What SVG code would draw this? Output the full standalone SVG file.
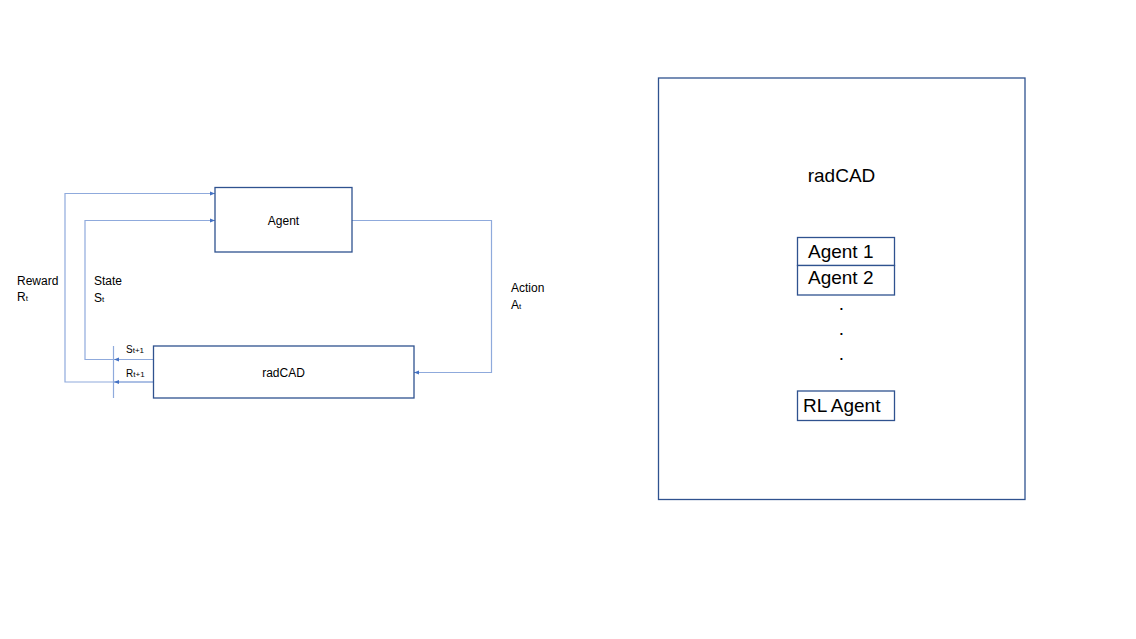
<svg xmlns="http://www.w3.org/2000/svg" width="1136" height="639" viewBox="0 0 1136 639">
<style>
.box{fill:#fff;stroke:#2F528F;stroke-width:1.3}
.ln{fill:none;stroke:#8FAADC;stroke-width:1.2}
.t{font-family:"Liberation Sans",Arial,sans-serif;fill:#000}
.s{font-size:12px}
.sub{font-size:8px}
.big{font-size:19px}
</style>
<defs>
<marker id="ah" viewBox="0 0 10 10" refX="10" refY="5" markerWidth="5" markerHeight="5" orient="auto" markerUnits="userSpaceOnUse">
<path d="M0,1 L10,5 L0,9 Z" fill="#4472C4"/>
</marker>
</defs>
<rect width="1136" height="639" fill="#fff"/>
<g id="connectors">
<polyline class="ln" points="153,382 65,382 65,193.5 215,193.5" marker-end="url(#ah)"/>
<polyline class="ln" points="153,359.5 85,359.5 85,220.5 215,220.5" marker-end="url(#ah)"/>
<polyline class="ln" points="352,220.5 491.5,220.5 491.5,372.5 414,372.5" marker-end="url(#ah)"/>
<path class="ln" d="M153,359.5 L114,359.5" marker-end="url(#ah)"/>
<path class="ln" d="M153,382 L114,382" marker-end="url(#ah)"/>
<line class="ln" x1="113.5" y1="346" x2="113.5" y2="398"/>
</g>
<g id="agent">
<rect class="box" x="215" y="187.5" width="137" height="64.5"/>
<text class="t s" x="283.5" y="224.5" text-anchor="middle">Agent</text>
</g>
<g id="radcad-env">
<rect class="box" x="153.5" y="346" width="260.5" height="52"/>
<text class="t s" x="283.5" y="376.5" text-anchor="middle">radCAD</text>
</g>
<g id="labels">
<text class="t s" x="17" y="285">Reward</text>
<text class="t s" x="17" y="301">R<tspan class="sub">t</tspan></text>
<text class="t s" x="94" y="285">State</text>
<text class="t s" x="94" y="302">S<tspan class="sub">t</tspan></text>
<text class="t s" x="511" y="292">Action</text>
<text class="t s" x="511" y="309">A<tspan class="sub">t</tspan></text>
<text class="t" x="126" y="353" font-size="10">S<tspan class="sub">t+1</tspan></text>
<text class="t" x="126" y="377" font-size="10">R<tspan class="sub">t+1</tspan></text>
</g>
<g id="radcad-system">
<rect class="box" x="658.5" y="78" width="366.5" height="421.5"/>
<text class="t big" x="841.5" y="182" text-anchor="middle">radCAD</text>
</g>
<g id="agent1">
<rect class="box" x="797.5" y="237.5" width="97" height="28"/>
<text class="t big" x="808" y="258">Agent 1</text>
</g>
<g id="agent2">
<rect class="box" x="797.5" y="265.5" width="97" height="29.5"/>
<text class="t big" x="808" y="284">Agent 2</text>
</g>
<g id="dots">
<text class="t big" x="841.5" y="310" text-anchor="middle">.</text>
<text class="t big" x="841.5" y="335" text-anchor="middle">.</text>
<text class="t big" x="841.5" y="360" text-anchor="middle">.</text>
</g>
<g id="rlagent">
<rect class="box" x="797.5" y="391" width="97" height="29.5"/>
<text class="t big" x="803" y="412">RL Agent</text>
</g>
</svg>
